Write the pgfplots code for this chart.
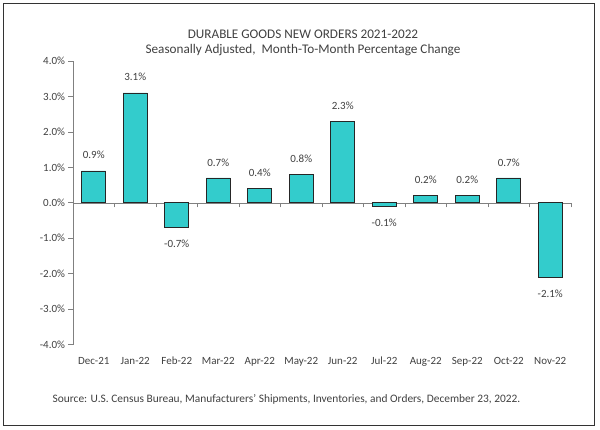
\documentclass[border=0pt]{standalone}
\usepackage{fontspec}
\setmainfont{Carlito}
\usepackage{pgfplots}
\pgfplotsset{compat=1.18}
\definecolor{barc}{RGB}{51,204,204}
\definecolor{txt}{RGB}{64,64,64}
\definecolor{axc}{RGB}{128,128,128}
\begin{document}
\begin{tikzpicture}
\useasboundingbox (0pt,0pt) rectangle (600pt,429pt);
\draw[line width=1.6pt,black!80] (3.5pt,3.5pt) rectangle (594.5pt,425.5pt);
\node[txt,font=\fontsize{13.2}{15}\selectfont] at (303pt,394.5pt) {DURABLE GOODS NEW ORDERS 2021-2022};
\node[txt,font=\fontsize{13.2}{15}\selectfont] at (303pt,379pt) {Seasonally Adjusted,\ \ Month-To-Month Percentage Change};
\node[txt,font=\fontsize{11.4}{13}\selectfont] at (286.5pt,29.5pt) {Source: U.S. Census Bureau, Manufacturers’ Shipments, Inventories, and Orders, December 23, 2022.};
\begin{axis}[
  at={(73pt,84.5pt)}, anchor=south west, scale only axis,
  width=498pt, height=283.5pt,
  xmin=-0.5, xmax=11.5, ymin=-4, ymax=4,
  axis y line*=left, axis x line=middle,
  x axis line style={-, draw=axc},
  y axis line style={-, draw=axc},
  hide obscured x ticks=false, hide obscured y ticks=false,
  tick align=outside, major tick length=4.5pt,
  tick style={axc, line width=0.6pt},
  xtick={0.5,1.5,...,11.5}, xticklabels={},
  ytick={-4,-3,...,4},
  yticklabels={-4.0\%,-3.0\%,-2.0\%,-1.0\%,0.0\%,1.0\%,2.0\%,3.0\%,4.0\%},
  yticklabel style={txt, font=\fontsize{11}{13}\selectfont},
  clip=false,
]
\addplot[ybar, bar width=24pt, bar shift=0pt, fill=barc, draw=black!85, line width=0.7pt,
  point meta=explicit symbolic, nodes near coords,
  every node near coord/.append style={txt, font=\fontsize{11}{13}\selectfont, anchor=south, inner ysep=11.5pt}]
  coordinates {
  (0,0.9) [0.9\%]
  (1,3.1) [3.1\%]
  (3,0.7) [0.7\%]
  (4,0.4) [0.4\%]
  (5,0.8) [0.8\%]
  (6,2.3) [2.3\%]
  (8,0.2) [0.2\%]
  (9,0.2) [0.2\%]
  (10,0.7) [0.7\%]
  };
\addplot[ybar, bar width=24pt, bar shift=0pt, fill=barc, draw=black!85, line width=0.7pt,
  point meta=explicit symbolic, nodes near coords,
  every node near coord/.append style={txt, font=\fontsize{11}{13}\selectfont, anchor=north, inner ysep=12.5pt}]
  coordinates {
  (2,-0.7) [-0.7\%]
  (7,-0.1) [-0.1\%]
  (11,-2.1) [-2.1\%]
  };
\end{axis}
\begin{axis}[
  at={(73pt,84.5pt)}, anchor=south west, scale only axis,
  width=498pt, height=283.5pt,
  xmin=-0.5, xmax=11.5, ymin=-4, ymax=4,
  axis x line*=bottom, axis y line=none,
  x axis line style={draw=none}, ytick=\empty,
  major tick length=0pt,
  xtick={0,...,11},
  xticklabels={Dec-21,Jan-22,Feb-22,Mar-22,Apr-22,May-22,Jun-22,Jul-22,Aug-22,Sep-22,Oct-22,Nov-22},
  xticklabel style={txt, font=\fontsize{11}{13}\selectfont, yshift=-9pt},
]
\end{axis}
\end{tikzpicture}
\end{document}
